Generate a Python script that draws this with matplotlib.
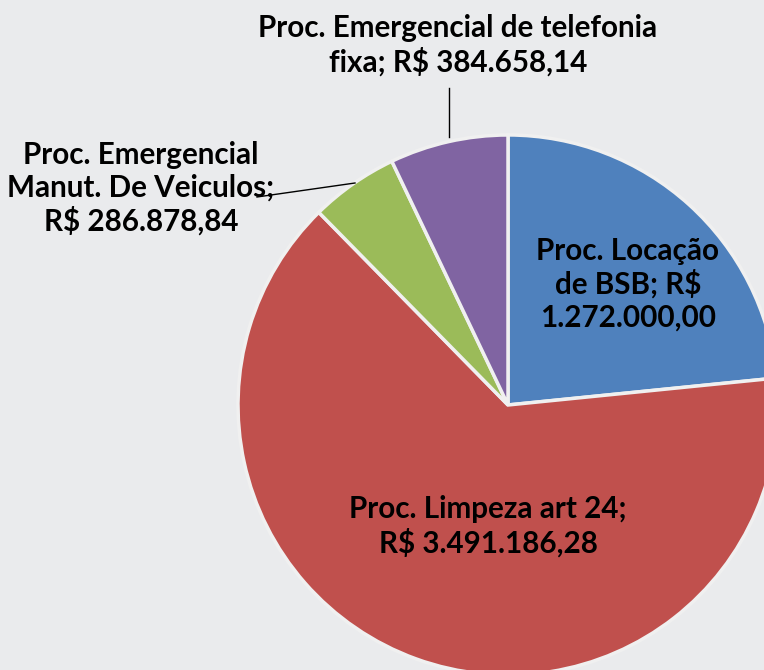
import matplotlib
matplotlib.use("Agg")
import matplotlib.pyplot as plt

categories = ["Proc. Locação de BSB", "Proc. Limpeza art 24",
              "Proc. Emergencial Manut. De Veiculos", "Proc. Emergencial de telefonia fixa"]
values = [1272000.00, 3491186.28, 286878.84, 384658.14]
label_texts = ["Proc. Locação\nde BSB; R$\n1.272.000,00",
               "Proc. Limpeza art 24;\nR$ 3.491.186,28",
               "Proc. Emergencial\nManut. De Veiculos;\nR$ 286.878,84",
               "Proc. Emergencial de telefonia\nfixa; R$ 384.658,14"]
colors = ["#4F81BD", "#C0504D", "#9BBB59", "#8064A2"]

W, H = 764, 670
fig = plt.figure(figsize=(W / 100, H / 100), dpi=100)
fig.patch.set_facecolor("#eaebed")
ax = fig.add_axes([0, 0, 1, 1])
ax.set_facecolor("#eaebed")
ax.set_xlim(0, W)
ax.set_ylim(0, H)
ax.set_aspect("equal")
ax.axis("off")

cx, cy, r = 508, H - 405, 270
wedges, _ = ax.pie(values, colors=colors, startangle=90, counterclock=False,
                   center=(cx, cy), radius=r, explode=[0.045, 0, 0, 0],
                   wedgeprops=dict(edgecolor="#f0f0f0", linewidth=2.5))
ax.set_xlim(0, W)
ax.set_ylim(0, H)

font = dict(family="Lato", fontweight="bold", fontsize=21.3, color="black",
            ha="center", va="center", linespacing=1.2)
ax.text(628, H - 284, label_texts[0], **font)
ax.text(488, H - 526, label_texts[1], **font)
ax.text(141, H - 188, label_texts[2], **font)
ax.text(458, H - 45, label_texts[3], **font)

ax.plot([355, 257], [H - 183, H - 197], color="black", lw=1)
ax.plot([449, 449], [H - 88, H - 137], color="black", lw=1)

fig.savefig("out.png", dpi=100, facecolor=fig.get_facecolor())
